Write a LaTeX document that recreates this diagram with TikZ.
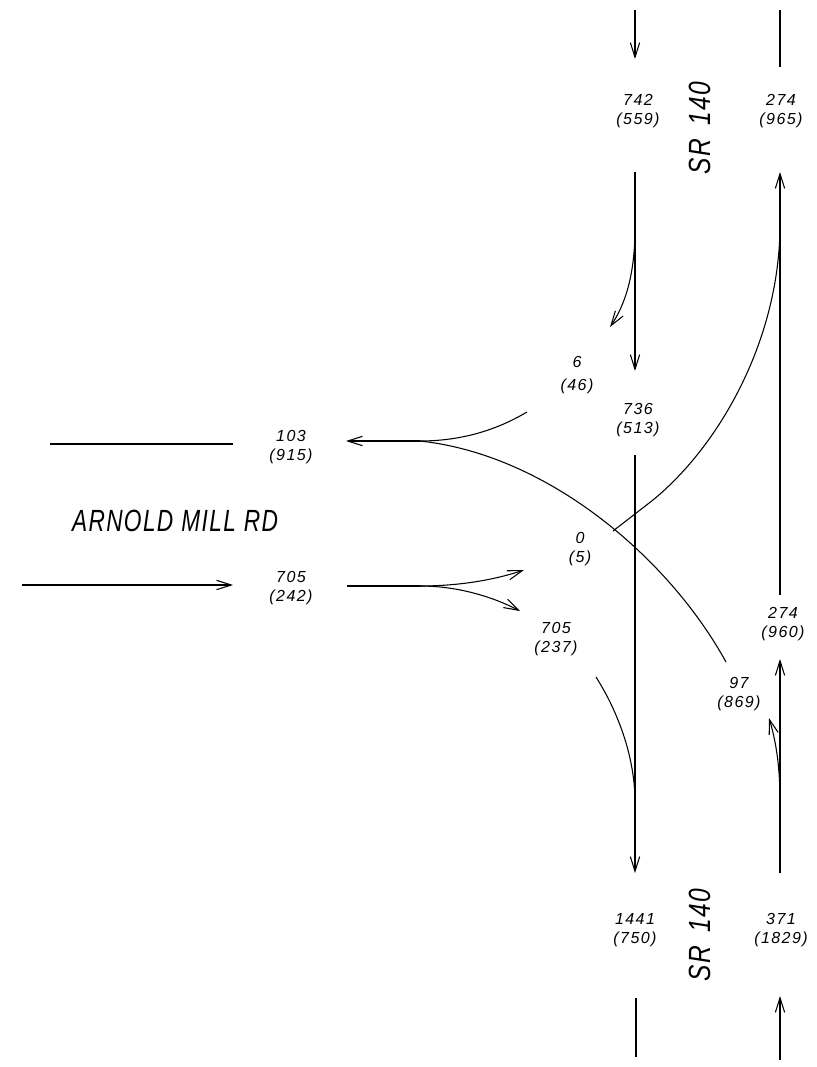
\documentclass[tikz,border=0pt]{standalone}
\usepackage{fontspec}
\setmainfont{Liberation Sans}
\newfontfamily\volfont{Liberation Sans}[LetterSpace=9]
\newfontfamily\rdfont{Liberation Sans}[LetterSpace=6]
\usetikzlibrary{arrows.meta}
\begin{document}
\begin{tikzpicture}[x=0.75pt,y=-0.75pt,
  road/.style={line width=0.8pt},
  arr/.style={road,-{Straight Barb[length=11pt,width=7pt]}},
  vol/.style={font=\volfont\fontsize{12}{14.5}\selectfont\itshape, align=center, inner sep=0pt},
  rname/.style={font=\rdfont\fontsize{23}{23}\selectfont\itshape, inner sep=0pt}]
\useasboundingbox (0,0) rectangle (817,1067);

% volume labels
\node[vol] (l742)  at (638,111) {742\\(559)};
\node[vol] (l274a) at (781,111) {274\\(965)};
\node[vol] (l6)    at (577,375) {6\\[3pt](46)};
\node[vol] (l736)  at (638,420) {736\\(513)};
\node[vol] (l103)  at (291,447) {103\\(915)};
\node[vol] (l0)    at (580,549) {0\\(5)};
\node[vol] (l705a) at (291,588) {705\\(242)};
\node[vol] (l705b) at (556,639) {705\\(237)};
\node[vol] (l274b) at (783,624) {274\\(960)};
\node[vol] (l97)   at (739,694) {97\\(869)};
\node[vol] (l1441) at (635,930) {1441\\(750)};
\node[vol] (l371)  at (781,930) {371\\(1829)};

% road names
\node[rname] (arnold) at (175,521) {\scalebox{0.74}[1]{ARNOLD\hspace{0.35em}MILL\hspace{0.35em}RD}};
\node[rname, rotate=90] (srtop) at (700,128) {\scalebox{0.8}[1]{SR\hspace{0.55em}140}};
\node[rname, rotate=90] (srbot) at (700,935) {\scalebox{0.8}[1]{SR\hspace{0.55em}140}};

% coordinates
\coordinate (sbA1) at (635,10);   \coordinate (sbA2) at (635,59);
\coordinate (sbB1) at (635,172);  \coordinate (sbB2) at (635,371);
\coordinate (sbT1) at (635,228);  \coordinate (sbT2) at (610,327);
\coordinate (sbC1) at (635,455);  \coordinate (sbC2) at (635,873);
\coordinate (sbM)  at (635,802);  \coordinate (ebR)  at (596,677);
\coordinate (sbD1) at (636,998);  \coordinate (sbD2) at (636,1057);

\coordinate (nbA1) at (780,1060); \coordinate (nbA2) at (780,996);
\coordinate (nbB1) at (780,873);  \coordinate (nbB2) at (780,659);
\coordinate (nbT1) at (780,802);  \coordinate (nbT2) at (769,718);
\coordinate (nbC1) at (780,595);  \coordinate (nbC2) at (780,172);
\coordinate (nbM)  at (780,227);
\coordinate (nbD1) at (780,67);   \coordinate (nbD2) at (780,10);
\coordinate (ebL1) at (613,531);  \coordinate (ebL2) at (653,500);

\coordinate (wbS)  at (420,441);  \coordinate (wbE)  at (346,441);
\coordinate (wbU)  at (527,412);  \coordinate (wbD)  at (726,662);
\coordinate (wbX1) at (50,444);   \coordinate (wbX2) at (233,444);

\coordinate (ebA1) at (22,585);   \coordinate (ebA2) at (233,585);
\coordinate (ebB1) at (347,586);  \coordinate (ebS)  at (420,586);
\coordinate (ebU)  at (524,570);  \coordinate (ebD)  at (520,611);

% southbound SR 140
\draw[arr] (sbA1) -- (sbA2);
\draw[arr] (sbB1) -- (sbB2);
\draw[arr] (sbT1) .. controls (635,275) and (625,305) .. (sbT2);
\draw[arr] (sbC1) -- (sbC2);
\draw[road] (ebR) .. controls (620,715) and (635,760) .. (sbM);
\draw[road] (sbD1) -- (sbD2);

% northbound SR 140
\draw[arr] (nbA1) -- (nbA2);
\draw[arr] (nbB1) -- (nbB2);
\draw[arr] (nbT1) .. controls (780,770) and (777,745) .. (nbT2);
\draw[arr] (nbC1) -- (nbC2);
\draw[road] (nbD1) -- (nbD2);
\draw[road] (ebL1) -- (ebL2) .. controls (720,445) and (779,340) .. (nbM);

% westbound Arnold Mill Rd
\draw[arr] (wbS) -- (wbE);
\draw[road] (wbU) .. controls (505,425) and (470,441) .. (wbS);
\draw[road] (wbD) .. controls (670,560) and (550,455) .. (wbS);
\draw[line width=1.5pt] (wbX1) -- (wbX2);

% eastbound Arnold Mill Rd
\draw[arr] (ebA1) -- (ebA2);
\draw[road] (ebB1) -- (ebS);
\draw[arr] (ebS) .. controls (465,586) and (500,578) .. (ebU);
\draw[arr] (ebS) .. controls (460,586) and (495,598) .. (ebD);
\end{tikzpicture}
\end{document}
